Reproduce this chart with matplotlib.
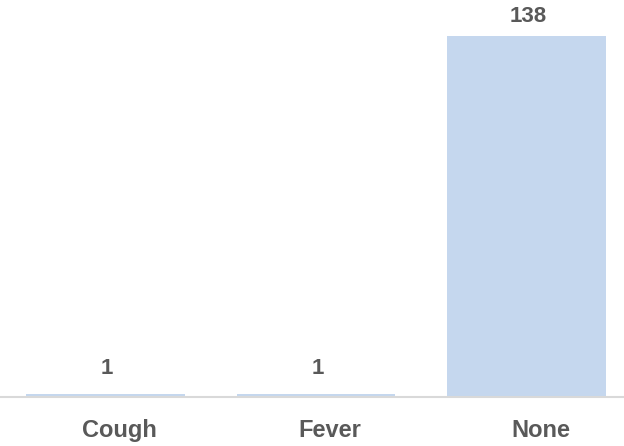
import matplotlib.pyplot as plt
import matplotlib.transforms as mtransforms

# symptom counts
categories = ['Cough', 'Fever', 'None']
counts = [1, 1, 138]

bar_color = '#C5D7EE'
text_color = '#595959'

plt.rcParams['font.family'] = ['Liberation Sans', 'DejaVu Sans']

fig = plt.figure(figsize=(6.24, 4.46), dpi=100)
ax = fig.add_axes([0, 49 / 446, 1, 397 / 446])

x = list(range(len(categories)))
ax.bar(x, counts, width=0.755, color=bar_color)

# value labels above bars (tallest one is squeezed a bit to stay inside the figure)
top = max(counts)
for xi, v in zip(x, counts):
    off = 10 if v == top else 14.4
    ax.annotate(str(v), (xi, v), xytext=(1, off), textcoords='offset points',
                ha='center', va='baseline', fontsize=16, fontweight='bold',
                color=text_color, annotation_clip=False)

ax.set_xlim(-0.501, 2.463)
ax.set_ylim(0, 138 * 397 / 361)

ax.set_xticks(x)
ax.set_xticklabels(categories, fontsize=17, fontweight='bold', color=text_color)
ax.tick_params(axis='x', length=0, pad=16)
ax.set_yticks([])

# category labels sit a little right of the bar centres in the original
shift = mtransforms.ScaledTranslation(14 / 100, 0, fig.dpi_scale_trans)
for lab in ax.get_xticklabels():
    lab.set_transform(lab.get_transform() + shift)

for side in ['top', 'right', 'left']:
    ax.spines[side].set_visible(False)
ax.spines['bottom'].set_color('#D9D9D9')
ax.spines['bottom'].set_linewidth(1.5)

fig.savefig('out.png', dpi=100)
